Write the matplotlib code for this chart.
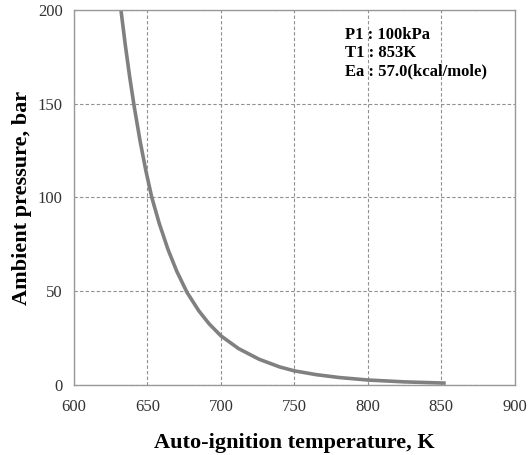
import matplotlib.pyplot as plt

# values (eye-smoothed)
temperature = [632, 635, 638, 641, 645, 649, 653, 658, 664, 670, 677, 685,
               692, 700, 712, 726, 740, 750, 765, 780, 800, 825, 853]
pressure = [200, 181.1, 164.0, 148.6, 130.2, 114.1, 100.0, 86.3, 72.3, 60.6,
            49.3, 39.5, 32.6, 26.2, 19.4, 13.7, 9.6, 7.5, 5.47, 3.99, 2.62,
            1.63, 0.96]

x_ticks = [600, 650, 700, 750, 800, 850, 900]
y_ticks = [0, 50, 100, 150, 200]
note = "P1 : 100kPa\nT1 : 853K\nEa : 57.0(kcal/mole)"

plt.rcParams['font.family'] = ['Liberation Serif', 'DejaVu Serif']

fig = plt.figure(figsize=(5.28, 4.55), dpi=100)
ax = fig.add_axes([0.140, 0.154, 0.835, 0.824])

ax.plot(temperature, pressure, color='#808080', lw=2.6,
        solid_capstyle='butt', solid_joinstyle='round')

ax.set_xlim(600, 900)
ax.set_ylim(0, 200)
ax.set_xticks(x_ticks)
ax.set_yticks(y_ticks)
ax.grid(True, linestyle=(0, (3, 2)), color='#909090', lw=0.8)
ax.tick_params(length=0, labelsize=12, colors='#333333', pad=10)
ax.tick_params(axis='y', pad=8)
for s in ax.spines.values():
    s.set_color('#999999')
    s.set_linewidth(1.0)

ax.set_xlabel('Auto-ignition temperature, K', fontsize=16, fontweight='bold', labelpad=13)
ax.set_ylabel('Ambient pressure, bar', fontsize=16, fontweight='bold', labelpad=4)

ax.text(0.614, 0.955, note, transform=ax.transAxes, fontsize=12, fontweight='bold',
        ha='left', va='top', linespacing=1.2)

fig.savefig('out.png', dpi=100)
